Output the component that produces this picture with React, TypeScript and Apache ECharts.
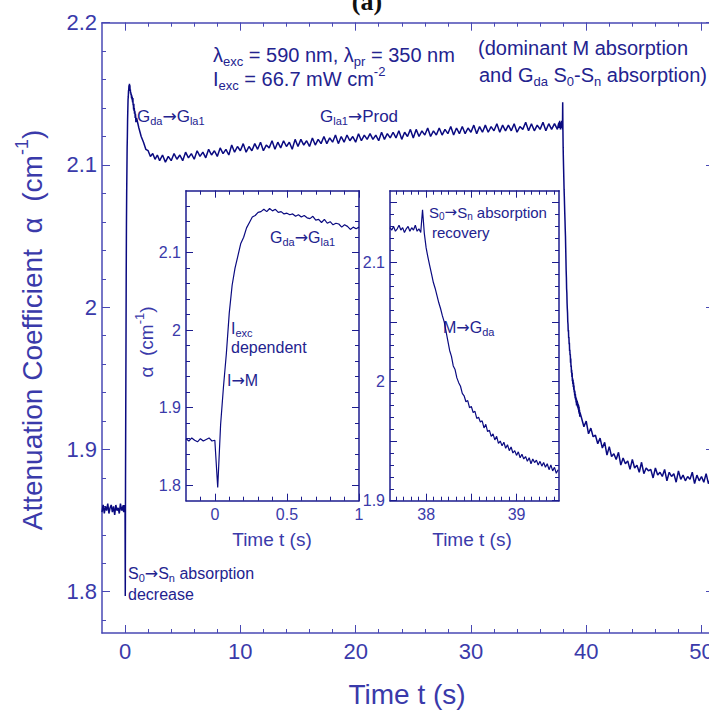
import React, { useEffect, useRef } from "react";
import * as echarts from "echarts";

// ---------------- data ----------------
// sampling start / step (s) and absorption-coefficient values (cm^-1)
const preStart = -2.0;
const preStep = 0.1;
const preValues = [1.856, 1.861, 1.855, 1.86, 1.857, 1.862, 1.855, 1.859, 1.861, 1.856, 1.86, 1.854, 1.861, 1.857, 1.859, 1.855, 1.862, 1.857];

const inset1Start = -0.2;
const inset1Step = 0.02;
const inset1Values = [
  1.86, 1.857, 1.861, 1.858, 1.856, 1.86, 1.857, 1.859, 1.861, 1.857,
  1.858, 1.797, 1.878, 1.927, 1.97, 2.022, 2.058, 2.08, 2.096, 2.112,
  2.12, 2.132, 2.139, 2.146, 2.148, 2.152, 2.153, 2.156, 2.153, 2.157,
  2.154, 2.156, 2.152, 2.153, 2.15, 2.151, 2.149, 2.15, 2.147, 2.149,
  2.146, 2.148, 2.145, 2.144, 2.147, 2.142, 2.143, 2.139, 2.143, 2.138,
  2.14, 2.136, 2.138, 2.137, 2.133, 2.136, 2.134, 2.13, 2.133, 2.131, 2.133,
];

const earlyStart = 1.2;
const earlyStep = 0.2;
const earlyValues = [2.126, 2.12, 2.116, 2.111, 2.11, 2.106, 2.108, 2.104, 2.107, 2.103];

const plateauStart = 3.25;
const plateauStep = 0.25;
const plateauValues = [
  2.107, 2.102, 2.106, 2.103, 2.108, 2.104, 2.107, 2.103,
  2.109, 2.105, 2.108, 2.104, 2.11, 2.106, 2.109, 2.105,
  2.111, 2.107, 2.11, 2.106, 2.112, 2.108, 2.111, 2.107,
  2.114, 2.109, 2.113, 2.11, 2.115, 2.109, 2.113, 2.11,
  2.115, 2.111, 2.116, 2.11, 2.114, 2.112, 2.117, 2.111,
  2.116, 2.112, 2.117, 2.113, 2.116, 2.111, 2.118, 2.113,
  2.118, 2.114, 2.117, 2.113, 2.119, 2.114, 2.118, 2.115,
  2.12, 2.115, 2.119, 2.116, 2.121, 2.115, 2.12, 2.116,
  2.121, 2.117, 2.12, 2.116, 2.122, 2.117, 2.121, 2.118,
  2.122, 2.118, 2.121, 2.117, 2.123, 2.118, 2.122, 2.119,
  2.123, 2.119, 2.124, 2.118, 2.123, 2.12, 2.125, 2.119,
  2.125, 2.12, 2.124, 2.121, 2.126, 2.12, 2.124, 2.121,
  2.126, 2.121, 2.125, 2.122, 2.127, 2.121, 2.126, 2.122,
  2.127, 2.122, 2.126, 2.123, 2.128, 2.122, 2.127, 2.123,
  2.128, 2.123, 2.127, 2.124, 2.129, 2.123, 2.128, 2.124,
  2.128, 2.124, 2.129, 2.123, 2.127, 2.125, 2.13, 2.124,
  2.129, 2.124, 2.128, 2.125, 2.13, 2.124, 2.129, 2.125,
  2.129, 2.125,
];

const inset2Start = 37.6;
const inset2Step = 0.02;
const inset2Values = [
  2.129, 2.127, 2.13, 2.126, 2.128, 2.131, 2.127, 2.129, 2.125, 2.128,
  2.13, 2.126, 2.129, 2.127, 2.131, 2.126, 2.128, 2.125,
  2.144, 2.124, 2.112, 2.104, 2.097, 2.09, 2.083, 2.078, 2.072, 2.066,
  2.061, 2.055, 2.05, 2.042, 2.034, 2.026, 2.021, 2.013, 2.01, 2.003,
  1.999, 1.996, 1.99, 1.988, 1.983, 1.984, 1.978, 1.979, 1.974, 1.975,
  1.969, 1.97, 1.966, 1.967, 1.961, 1.964, 1.958, 1.959, 1.954, 1.956,
  1.951, 1.954, 1.948, 1.95, 1.946, 1.949, 1.944, 1.947, 1.942, 1.945,
  1.94, 1.942, 1.938, 1.941, 1.936, 1.939, 1.935, 1.937, 1.933, 1.936,
  1.931, 1.935, 1.932, 1.934, 1.93, 1.933, 1.929, 1.932, 1.928, 1.931,
  1.926, 1.93, 1.925, 1.928, 1.923, 1.926,
];

const tailStart = 39.6;
const tailStep = 0.2;
const tailValues = [
  1.922, 1.916, 1.92, 1.911, 1.915, 1.909, 1.91, 1.904, 1.908, 1.901,
  1.905, 1.896, 1.902, 1.895, 1.897, 1.893, 1.898, 1.889, 1.894, 1.89,
  1.892, 1.886, 1.893, 1.887, 1.889, 1.884, 1.891, 1.883, 1.887, 1.885,
  1.886, 1.88, 1.887, 1.882, 1.884, 1.881, 1.886, 1.878, 1.884, 1.881,
  1.883, 1.877, 1.885, 1.879, 1.882, 1.878, 1.881, 1.879, 1.884, 1.876,
  1.882, 1.878, 1.881, 1.877, 1.883, 1.876, 1.88,
];

// tick labels
const mainXLabels = [0, 10, 20, 30, 40, 50];
const mainYLabels = [1.8, 1.9, 2.0, 2.1, 2.2];
const inset1XLabels = [0, 0.5, 1];
const inset1YLabels = [1.8, 1.9, 2.0, 2.1];
const inset2XLabels = [38, 39];
const inset2YLabels = [1.9, 2.0, 2.1];

// ---------------- styling ----------------
const FONT = "Liberation Sans";
const ARROW_FONT = "DejaVu Sans";
const NAVY = "#0a0a80";
const AXIS_MAIN = "#4848b4";
const FRAME = "#1c1c8e";
const TEXT = "#23238f";
const TICKTEXT = "#3a3aaa";

const seg = (start: number, step: number, vals: number[]) =>
  vals.map((v, i) => [+(start + i * step).toFixed(4), v]);

const stepList = (a: number, b: number, step: number) => {
  const out: number[] = [];
  const n = Math.round((b - a) / step);
  for (let i = 0; i <= n; i++) out.push(+(a + i * step).toFixed(4));
  return out;
};

const fmt = (v: number) => String(Math.round(v * 10) / 10);

function valAxis(o: any) {
  return {
    type: "value",
    gridIndex: o.grid,
    position: o.pos,
    min: o.min,
    max: o.max,
    splitLine: { show: false },
    splitArea: { show: false },
    minorTick: { show: false },
    axisLine: {
      show: !!o.line,
      onZero: false,
      lineStyle: { color: o.color, width: o.lineWidth ?? 1.5 },
    },
    axisTick: {
      show: true,
      inside: true,
      length: o.len,
      customValues: o.ticks,
      lineStyle: { color: o.color, width: 1 },
    },
    axisLabel: o.labels
      ? {
          show: true,
          customValues: o.labels,
          formatter: fmt,
          fontSize: o.labelSize,
          fontFamily: FONT,
          color: TICKTEXT,
          margin: o.labelMargin,
        }
      : { show: false },
  };
}

let mctx: CanvasRenderingContext2D | null = null;
function measure(text: string, size: number, family: string, weight = "normal") {
  if (!mctx) mctx = document.createElement("canvas").getContext("2d");
  mctx!.font = `${weight} ${size}px "${family}"`;
  return mctx!.measureText(text).width;
}

function parse(s: string) {
  const out: { t: string; k: string }[] = [];
  let buf = "";
  let i = 0;
  const flush = () => {
    if (buf) out.push({ t: buf, k: "n" });
    buf = "";
  };
  while (i < s.length) {
    if ((s[i] === "_" || s[i] === "^") && s[i + 1] === "{") {
      flush();
      const end = s.indexOf("}", i);
      out.push({ t: s.slice(i + 2, end), k: s[i] === "_" ? "sub" : "sup" });
      i = end + 1;
    } else if (s[i] === "→") {
      flush();
      out.push({ t: "→", k: "arrow" });
      i++;
    } else {
      buf += s[i];
      i++;
    }
  }
  flush();
  return out;
}

function richText(s: string, x: number, y: number, size: number, color: string, align = "left", family = FONT, weight = "normal") {
  const items = parse(s).map((p) => {
    const fs = p.k === "n" || p.k === "arrow" ? size : Math.round(size * 0.66);
    const fam = p.k === "arrow" ? ARROW_FONT : family;
    return { ...p, fs, fam, w: measure(p.t, fs, fam, weight) };
  });
  const total = items.reduce((a, b) => a + b.w, 0);
  let cx = align === "center" ? x - total / 2 : x;
  const els: any[] = [];
  for (const it of items) {
    const dy = it.k === "sub" ? size * 0.32 : it.k === "sup" ? -size * 0.36 : 0;
    const words = it.t.split(" ");
    let prefix = "";
    words.forEach((wd, wi) => {
      if (wd) {
        els.push({
          type: "text",
          x: cx + measure(prefix, it.fs, it.fam, weight),
          y: y + dy,
          silent: true,
          style: {
            text: wd,
            fontSize: it.fs,
            fontFamily: it.fam,
            fontWeight: weight,
            fill: color,
            textAlign: "left",
            textVerticalAlign: "middle",
          },
        });
      }
      prefix += wd + (wi < words.length - 1 ? " " : "");
    });
    cx += it.w;
  }
  return els;
}

function vertText(s: string, x: number, y: number, size: number, color: string) {
  return {
    type: "group",
    x,
    y,
    rotation: Math.PI / 2,
    children: richText(s, 0, 0, size, color, "center"),
  };
}

export default function App() {
  const ref = useRef<HTMLDivElement>(null);

  useEffect(() => {
    if (!ref.current) return;
    const chart = echarts.init(ref.current, undefined, { renderer: "svg" });

    const inset1Data = seg(inset1Start, inset1Step, inset1Values);
    const inset2Data = seg(inset2Start, inset2Step, inset2Values);
    const mainData = [
      ...seg(preStart, preStep, preValues),
      ...inset1Data,
      ...seg(earlyStart, earlyStep, earlyValues),
      ...seg(plateauStart, plateauStep, plateauValues),
      ...inset2Data,
      ...seg(tailStart, tailStep, tailValues),
    ];

    const evens = stepList(0, 50, 2);
    const tens = stepList(0, 50, 10);
    const i2xMinor: number[] = [];
    for (let k = -4; k <= 17; k++) i2xMinor.push(+(38 + k / 12).toFixed(4));

    const M = { min: -2, max: 50.65 };
    const MY = { min: 1.771, max: 2.2 };
    const I1X = { min: -0.2, max: 1 };
    const I1Y = { min: 1.78, max: 2.18 };
    const I2X = { min: 37.6, max: 39.47 };
    const I2Y = { min: 1.9, max: 2.16 };

    const xAxis = [
      // main (grid 0)
      valAxis({ grid: 0, pos: "bottom", ...M, ticks: tens, len: 8, line: true, color: AXIS_MAIN, labels: mainXLabels, labelSize: 22, labelMargin: 7 }),
      valAxis({ grid: 0, pos: "bottom", ...M, ticks: evens, len: 4, color: AXIS_MAIN }),
      valAxis({ grid: 0, pos: "top", ...M, ticks: tens, len: 8, line: true, color: AXIS_MAIN }),
      valAxis({ grid: 0, pos: "top", ...M, ticks: evens, len: 4, color: AXIS_MAIN }),
      // inset 1 (grid 1)
      valAxis({ grid: 1, pos: "bottom", ...I1X, ticks: inset1XLabels, len: 7, line: true, color: FRAME, labels: inset1XLabels, labelSize: 16, labelMargin: 6 }),
      valAxis({ grid: 1, pos: "bottom", ...I1X, ticks: stepList(-0.1, 0.9, 0.1), len: 4, color: FRAME }),
      valAxis({ grid: 1, pos: "top", ...I1X, ticks: inset1XLabels, len: 7, line: true, color: FRAME }),
      valAxis({ grid: 1, pos: "top", ...I1X, ticks: stepList(-0.1, 0.9, 0.1), len: 4, color: FRAME }),
      // inset 2 (grid 2)
      valAxis({ grid: 2, pos: "bottom", ...I2X, ticks: [38, 38.5, 39], len: 7, line: true, color: FRAME, labels: inset2XLabels, labelSize: 16, labelMargin: 6 }),
      valAxis({ grid: 2, pos: "bottom", ...I2X, ticks: i2xMinor, len: 4, color: FRAME }),
      valAxis({ grid: 2, pos: "top", ...I2X, ticks: [38, 38.5, 39], len: 7, line: true, color: FRAME }),
      valAxis({ grid: 2, pos: "top", ...I2X, ticks: i2xMinor, len: 4, color: FRAME }),
    ];

    const yAxis = [
      // main
      valAxis({ grid: 0, pos: "left", ...MY, ticks: mainYLabels, len: 8, line: true, color: AXIS_MAIN, labels: mainYLabels, labelSize: 22, labelMargin: 5 }),
      valAxis({ grid: 0, pos: "left", ...MY, ticks: stepList(1.78, 2.18, 0.02), len: 4, color: AXIS_MAIN }),
      valAxis({ grid: 0, pos: "right", ...MY, ticks: mainYLabels, len: 3, line: false, color: AXIS_MAIN }),
      // inset 1
      valAxis({ grid: 1, pos: "left", ...I1Y, ticks: inset1YLabels, len: 7, line: true, color: FRAME, labels: inset1YLabels, labelSize: 16, labelMargin: 5 }),
      valAxis({ grid: 1, pos: "left", ...I1Y, ticks: stepList(1.8, 2.16, 0.02), len: 4, color: FRAME }),
      valAxis({ grid: 1, pos: "right", ...I1Y, ticks: inset1YLabels, len: 7, line: true, color: FRAME }),
      valAxis({ grid: 1, pos: "right", ...I1Y, ticks: stepList(1.8, 2.16, 0.02), len: 4, color: FRAME }),
      // inset 2
      valAxis({ grid: 2, pos: "left", ...I2Y, ticks: stepList(1.9, 2.15, 0.05), len: 7, line: true, color: FRAME, labels: inset2YLabels, labelSize: 16, labelMargin: 5 }),
      valAxis({ grid: 2, pos: "left", ...I2Y, ticks: stepList(1.91, 2.15, 0.01), len: 4, color: FRAME }),
      valAxis({ grid: 2, pos: "right", ...I2Y, ticks: stepList(1.9, 2.15, 0.05), len: 7, line: true, color: FRAME }),
      valAxis({ grid: 2, pos: "right", ...I2Y, ticks: stepList(1.91, 2.15, 0.01), len: 4, color: FRAME }),
    ];

    const line = (data: any, xi: number, yi: number, w: number) => ({
      type: "line",
      xAxisIndex: xi,
      yAxisIndex: yi,
      data,
      showSymbol: false,
      symbol: "none",
      clip: true,
      lineStyle: { color: NAVY, width: w },
      silent: true,
    });

    const elements: any[] = [
      // title (a), mostly cut off at the top
      ...richText("(a)", 367, 1, 26, "#111", "center", "Liberation Serif", "bold"),
      // main annotations
      ...richText("λ_{exc} = 590 nm, λ_{pr} = 350 nm", 213, 55, 20, TEXT),
      ...richText("I_{exc} = 66.7 mW cm^{-2}", 213, 79, 20, TEXT),
      ...richText("(dominant M absorption", 478, 48, 20, TEXT),
      ...richText("and G_{da} S_{0}-S_{n} absorption)", 479, 75, 20, TEXT),
      ...richText("G_{da}→G_{la1}", 137, 116, 17, TEXT),
      ...richText("G_{la1}→Prod", 320, 116, 17, TEXT),
      ...richText("S_{0}→S_{n} absorption", 128, 573, 16, TEXT),
      ...richText("decrease", 128, 594, 16, TEXT),
      // inset 1 annotations
      ...richText("G_{da}→G_{la1}", 270, 237, 16, TEXT),
      ...richText("I_{exc}", 231, 328, 16, TEXT),
      ...richText("dependent", 231, 347, 16, TEXT),
      ...richText("I→M", 227, 380, 16, TEXT),
      // inset 2 annotations
      ...richText("S_{0}→S_{n} absorption", 429, 212, 15, TEXT),
      ...richText("recovery", 432, 232, 15, TEXT),
      ...richText("M→G_{da}", 443, 327, 16, TEXT),
      // axis titles
      ...richText("Time t (s)", 407, 694, 28, TICKTEXT, "center"),
      ...richText("Time t (s)", 272, 539, 19, TICKTEXT, "center"),
      ...richText("Time t (s)", 472, 539, 19, TICKTEXT, "center"),
      vertText("Attenuation Coefficient  α  (cm^{-1})", 32, 330, 28, TICKTEXT),
      vertText("α  (cm^{-1})", 146, 342, 19, TICKTEXT),
    ];

    chart.setOption({
      animation: false,
      backgroundColor: "#ffffff",
      grid: [
        { left: 102, top: 22.7, right: 0, height: 610.3, containLabel: false, outerBoundsMode: "none" },
        { left: 186, top: 190.7, width: 173, height: 310, containLabel: false, outerBoundsMode: "none" },
        { left: 390, top: 190.7, width: 169, height: 310, containLabel: false, outerBoundsMode: "none" },
      ],
      xAxis,
      yAxis,
      series: [
        line(mainData, 0, 0, 1.5),
        line(inset1Data, 4, 3, 1.2),
        line(inset2Data, 8, 7, 1.2),
      ],
      graphic: { elements },
    });

    return () => chart.dispose();
  }, []);

  return (
    <div
      ref={ref}
      style={{ position: "absolute", left: 0, top: 0, width: 709, height: 710 }}
    />
  );
}
